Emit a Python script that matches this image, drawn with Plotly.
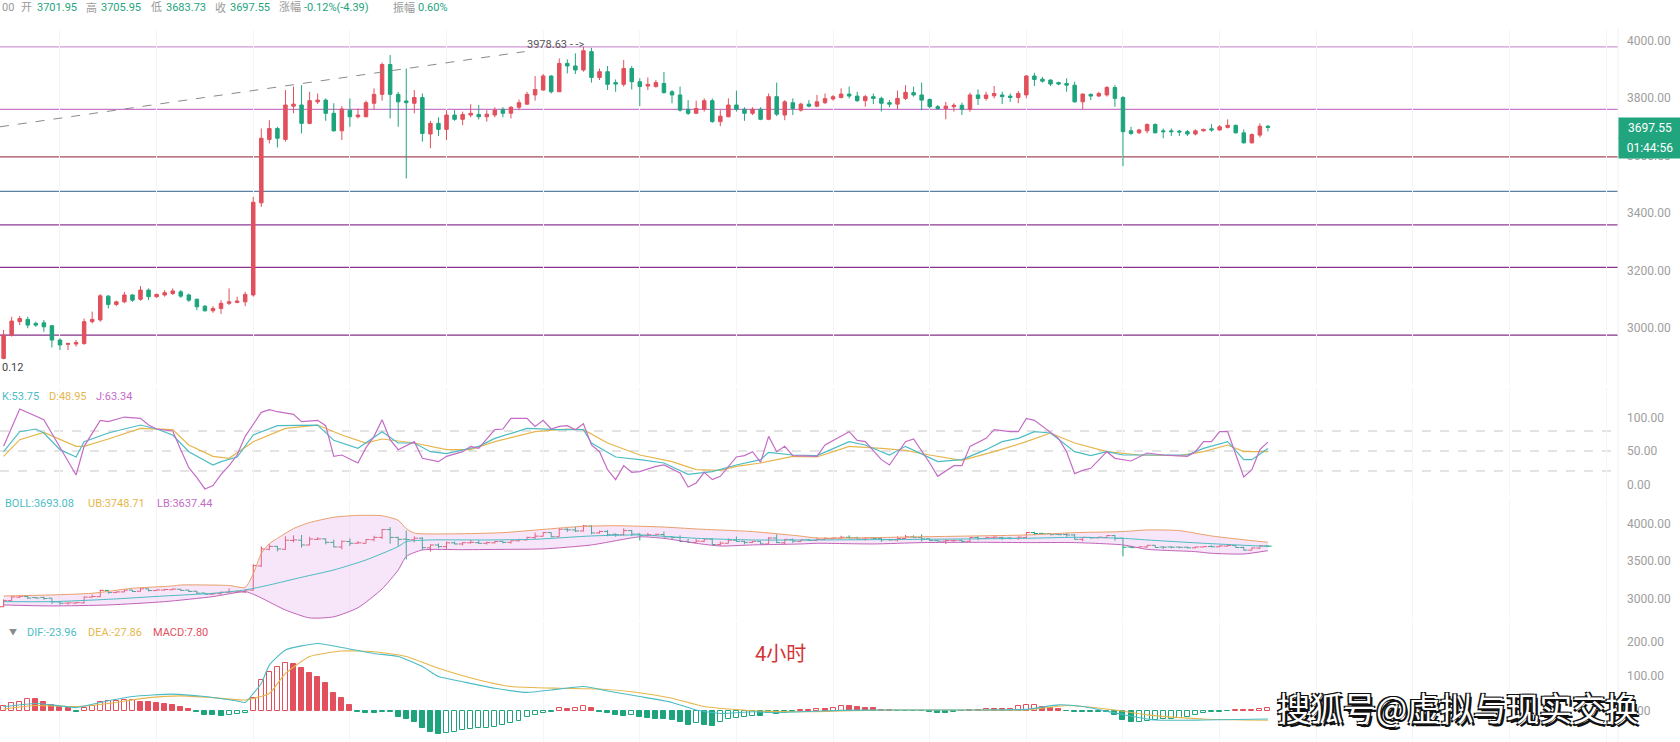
import plotly.graph_objects as go

# ---------------- data ----------------
candle_idx = list(range(158))

opens = [2893,2974,3021,3029,3015,3017,3007,2957,2942,2943,
         2945,3021,3027,3110,3081,3090,3114,3099,3131,3108,
         3114,3119,3125,3114,3099,3075,3059,3067,3085,3088,
         3090,3114,3435,3656,3694,3656,3772,3776,3712,3787,
         3793,3747,3686,3758,3735,3735,3782,3813,3917,3813,
         3790,3782,3802,3675,3712,3691,3741,3726,3741,3743,
         3735,3741,3761,3747,3768,3779,3811,3828,3877,3822,
         3921,3912,3898,3962,3872,3892,3854,3848,3903,3857,
         3842,3840,3851,3822,3811,3761,3747,3761,3791,3718,
         3735,3776,3761,3747,3761,3726,3805,3741,3784,3758,
         3779,3772,3784,3797,3802,3814,3807,3791,3805,3799,
         3784,3779,3799,3819,3811,3795,3770,3764,3770,3775,
         3761,3811,3799,3808,3811,3807,3802,3811,3877,3866,
         3863,3854,3851,3845,3787,3813,3807,3811,3837,3802,
         3686,3679,3686,3708,3686,3686,3685,3683,3675,3686,
         3693,3689,3698,3705,3679,3644,3671,3701.95]

highs = [2992,3038,3041,3038,3021,3027,3009,2963,2948,2957,
         3032,3056,3117,3114,3094,3125,3117,3145,3137,3119,
         3131,3137,3131,3119,3102,3079,3075,3096,3137,3108,
         3125,3456,3694,3723,3700,3828,3840,3845,3822,3816,
         3799,3782,3772,3799,3764,3791,3834,3924,3950,3822,
         3903,3828,3816,3721,3733,3758,3758,3753,3779,3776,
         3758,3768,3768,3772,3795,3822,3877,3884,3880,3938,
         3935,3956,3978.63,3975,3903,3912,3865,3933,3912,3869,
         3872,3863,3891,3828,3840,3793,3791,3799,3799,3758,
         3799,3826,3768,3768,3768,3816,3854,3793,3799,3784,
         3793,3811,3816,3811,3834,3840,3822,3811,3816,3805,
         3793,3826,3845,3840,3854,3799,3776,3787,3782,3784,
         3819,3830,3822,3842,3822,3816,3825,3880,3888,3874,
         3865,3857,3869,3857,3816,3816,3822,3842,3845,3807,
         3700,3693,3712,3712,3694,3694,3689,3689,3691,3693,
         3709,3706,3726,3708,3691,3677,3712,3705.95]

lows = [2890.12,2969,3009,2998,3003,2986,2931,2922,2922,2934,
        2940,3015,3021,3067,3075,3085,3090,3094,3096,3104,
        3108,3114,3104,3090,3061,3056,3052,3048,3079,3085,
        3075,3108,3421,3642,3628,3648,3747,3677,3709,3779,
        3721,3683,3654,3700,3729,3733,3761,3791,3729,3700,
        3520,3747,3648,3625,3668,3654,3721,3706,3733,3726,
        3718,3733,3733,3729,3758,3776,3791,3826,3816,3822,
        3886,3884,3892,3854,3863,3828,3822,3840,3830,3772,
        3828,3837,3816,3782,3753,3741,3744,3753,3714,3702,
        3733,3753,3721,3741,3723,3723,3737,3723,3741,3753,
        3768,3768,3779,3791,3799,3799,3787,3770,3779,3753,
        3768,3761,3793,3805,3758,3764,3761,3726,3753,3741,
        3753,3776,3791,3799,3779,3787,3782,3799,3842,3854,
        3842,3845,3822,3784,3761,3793,3805,3805,3770,3563,
        3671,3675,3677,3677,3660,3668,3668,3668,3670,3683,
        3683,3686,3694,3677,3642,3642,3663,3683.73]

closes = [2974,3023,3032,3009,3009,3003,2957,2940,2945,2948,
          3021,3029,3111,3081,3090,3114,3096,3131,3108,3116,
          3122,3128,3110,3096,3073,3059,3067,3085,3090,3093,
          3116,3437,3660,3694,3660,3776,3779,3712,3791,3793,
          3747,3686,3762,3735,3741,3784,3813,3917,3813,3787,
          3784,3802,3677,3712,3691,3741,3726,3743,3747,3735,
          3744,3758,3747,3768,3784,3813,3830,3877,3822,3921,
          3912,3898,3965,3872,3892,3848,3849,3903,3857,3840,
          3848,3854,3819,3811,3758,3747,3764,3791,3718,3737,
          3776,3761,3747,3761,3726,3805,3744,3787,3764,3779,
          3772,3787,3798,3805,3814,3807,3791,3805,3799,3782,
          3779,3799,3820,3811,3793,3770,3763,3772,3775,3761,
          3811,3799,3811,3816,3805,3802,3816,3877,3865,3859,
          3849,3849,3845,3787,3814,3807,3816,3837,3799,3683,
          3677,3689,3708,3679,3683,3683,3682,3675,3686,3691,
          3689,3700,3705,3679,3644,3673,3701.94,3697.55]

# horizontal level lines drawn on the price panel
level_prices = [3978.63, 3761, 3595, 3475, 3358, 3210, 2974]
level_colors = ['#d197d4', '#c977c9', '#a4485a', '#5b82a3', '#923a95', '#8a3490', '#83308a']

# dashed guide to the high label
guide_x = [-0.45, 64.7]
guide_y = [3700, 3962]
high_label = "3978.63 - ->"
low_label = "0.12"

# KDJ
k_x = [0,2,4,5,7,9,10,13,17,19,21,23,26,27,29,31,34,37,39,41,44,47,49,51,53,55,57,59,61,65,69,72,73,76,79,82,85,88,91,94,95,98,101,105,107,110,112,116,119,122,124,126,128,130,133,135,137,139,143,147,149,152,154,155,157]
k_v = [49,79,83,77,52,41,64,77,89,83,74,49,29,34,41,74,88,89,89,66,54,79,62,62,49,46,52,57,69,84,82,82,62,41,37,32,15,19,29,37,48,44,43,64,59,44,57,34,37,52,64,69,79,77,49,43,49,44,44,44,54,64,37,37,53.75]
d_x = [0,2,5,7,9,10,13,17,21,23,26,28,31,35,39,42,45,47,51,55,58,61,66,70,72,75,79,83,86,89,91,94,98,101,105,109,112,115,119,123,127,130,133,137,141,146,149,152,154,157]
d_v = [42,67,78,67,57,57,68,84,82,59,42,39,64,84,89,74,62,68,62,52,52,64,79,83,82,62,44,34,22,21,27,32,42,41,57,54,51,44,36,49,64,77,62,49,44,43,49,59,49,48.95]
j_x = [0,2,5,9,10,12,13,15,17,18,19,21,22,23,24,25,26,27,28,29,30,31,32,33,34,36,37,39,40,41,42,44,45,46,47,48,49,51,52,54,55,57,58,59,61,62,63,65,66,67,68,69,70,71,72,73,74,75,76,77,78,79,81,82,84,85,86,87,88,89,90,91,92,93,94,95,96,97,98,99,101,102,103,104,105,106,107,109,110,112,113,115,116,118,119,120,122,123,125,126,127,128,129,131,132,133,134,135,137,138,140,142,144,146,147,148,149,150,151,152,154,155,156,157]
j_v = [57,113,97,14,57,96,94,101,99,89,83,80,52,25,10,-7,-2,15,28,44,72,90,108,112,109,105,94,96,88,42,44,32,55,72,97,67,52,64,39,34,42,49,57,54,82,83,99,99,87,96,83,87,88,82,91,59,49,22,7,28,18,19,27,29,17,-4,2,18,7,12,27,41,43,49,33,72,49,57,43,43,42,59,66,72,79,66,64,37,29,64,68,32,12,28,28,57,69,82,79,79,99,96,87,69,49,16,21,24,49,39,35,47,44,43,42,49,64,64,79,79,11,22,52,63.34]
kdj_levels = [20, 50, 80]

# BOLL
ub_x = [0,6,11,16,21,22,28,30,31,32,33,34,36,38,41,44,47,49,50,51,56,62,66,70,72,76,82,86,93,99,101,115,127,133,139,142,146,150,155,157]
ub_v = [3036,3050,3072,3138,3169,3182,3175,3150,3330,3600,3730,3800,3930,4010,4080,4105,4100,4040,3930,3870,3860,3876,3910,3945,3960,3968,3950,3925,3890,3830,3805,3823,3845,3876,3890,3912,3903,3832,3770,3748.71]
lb_x = [0,6,13,20,26,30,31,32,35,38,41,44,47,49,50,52,57,63,67,73,79,82,86,89,93,99,101,108,114,122,127,133,139,142,148,150,154,157]
lb_v = [2917,2904,2917,2961,3028,3094,3060,3010,2850,2745,2760,2880,3130,3380,3560,3646,3650,3655,3660,3713,3820,3800,3735,3699,3713,3726,3735,3726,3744,3748,3744,3744,3713,3655,3624,3602,3593,3637.44]
mb_x = [0,6,13,20,26,30,33,37,41,45,49,50,53,60,66,73,79,86,93,101,115,127,133,139,142,149,157]
mb_v = [2961,2961,2992,3036,3072,3116,3182,3284,3381,3514,3691,3757,3779,3779,3788,3832,3845,3801,3779,3779,3788,3801,3814,3801,3779,3735,3693.08]

# MACD
dif_x = [0,4,6,9,12,16,21,25,29,30,31,32,33,35,39,42,46,49,52,54,57,61,65,68,72,75,79,83,86,89,93,96,99,104,110,120,127,131,134,139,143,149,157]
dif_v = [12,21,17,9,24,41,48,41,28,24,50,79,132,176,195,183,166,157,128,99,84,65,53,60,70,57,41,24,2,-8,-3,-6,-3,1,2,2,4,17,12,-11,-27,-27,-23.96]
dea_x = [0,4,9,13,18,22,26,30,33,35,38,42,46,50,54,59,63,69,74,78,83,87,93,99,104,110,120,127,132,138,142,149,157]
dea_v = [5,15,12,21,38,43,38,31,50,108,157,173,171,157,123,89,70,65,63,55,36,12,0,-3,-1,2,2,2,15,2,-12,-24,-27.86]
macd_hist = [15,21,26,34,33,26,18,12,8,-3,
             9,15,24,28,29,31,32,26,24,21,
             19,16,10,5,-5,-11,-13,-14,-11,-10,
             -8,36,89,111,128,137,136,123,108,99,
             79,50,36,16,-3,-6,-8,-3,-5,-17,
             -25,-32,-51,-63,-68,-65,-61,-56,-53,-51,
             -49,-46,-41,-36,-30,-17,-13,-6,-3,7,
             5,9,15,7,-3,-6,-13,-16,-11,-17,
             -22,-23,-25,-27,-32,-41,-36,-41,-43,-32,
             -24,-20,-17,-14,-15,-8,-9,-6,-3,2,
             3,5,4,7,15,13,11,9,7,2,
             2,-1,-1,-1,-2,-5,-6,-7,-5,-1,
             2,3,4,4,4,5,15,17,18,12,
             9,5,-2,-3,-4,-4,-5,-5,-11,-27,
             -34,-32,-30,-27,-25,-24,-22,-17,-12,-8,
             -5,-3,-1,2,2,3,4,7.8]

# ---------------- styling ----------------
W, H = 1680, 742
PR = 1618  # right edge of plotting area (px)


def xp(px):
    return px / W


def yp(py):
    return 1 - py / H


RED = '#e1505c'
GREEN = '#1ea47d'
C_K = '#4cbcc4'
C_D = '#e6b64c'
C_J = '#c46cc6'
C_UB = '#eaa06a'
C_LB = '#c064b8'
GRAY_TXT = '#9a9a9a'
FONT = 'Roboto, "Noto Sans CJK SC", sans-serif'

fig = go.Figure()

# price candles
fig.add_trace(go.Candlestick(
    x=candle_idx, open=opens, high=highs, low=lows, close=closes,
    increasing=dict(line=dict(color=RED, width=1), fillcolor=RED),
    decreasing=dict(line=dict(color=GREEN, width=1), fillcolor=GREEN),
    whiskerwidth=0, xaxis='x', yaxis='y', hoverinfo='skip'))

# KDJ
fig.add_trace(go.Scatter(x=d_x, y=d_v, mode='lines', line=dict(color=C_D, width=1.2), xaxis='x', yaxis='y2', hoverinfo='skip'))
fig.add_trace(go.Scatter(x=k_x, y=k_v, mode='lines', line=dict(color=C_K, width=1.2), xaxis='x', yaxis='y2', hoverinfo='skip'))
fig.add_trace(go.Scatter(x=j_x, y=j_v, mode='lines', line=dict(color=C_J, width=1.2), xaxis='x', yaxis='y2', hoverinfo='skip'))

# BOLL
fig.add_trace(go.Scatter(x=lb_x, y=lb_v, mode='lines', line=dict(color=C_LB, width=1, shape='spline', smoothing=0.6), xaxis='x', yaxis='y3', hoverinfo='skip'))
fig.add_trace(go.Scatter(x=ub_x, y=ub_v, mode='lines', line=dict(color=C_UB, width=1, shape='spline', smoothing=0.6), fill='tonexty',
                         fillcolor='rgba(226,160,232,0.28)', xaxis='x', yaxis='y3', hoverinfo='skip'))
fig.add_trace(go.Scatter(x=mb_x, y=mb_v, mode='lines', line=dict(color=C_K, width=1, shape='spline', smoothing=0.6), xaxis='x', yaxis='y3', hoverinfo='skip'))
fig.add_trace(go.Ohlc(x=candle_idx, open=opens, high=highs, low=lows, close=closes,
                      increasing=dict(line=dict(color=RED, width=1)),
                      decreasing=dict(line=dict(color=GREEN, width=1)),
                      tickwidth=0.45, xaxis='x', yaxis='y3', hoverinfo='skip'))

# MACD histogram
bar_fill, bar_line = [], []
for i, v in enumerate(macd_hist):
    col = RED if v >= 0 else GREEN
    prev = macd_hist[i - 1] if i > 0 else v - 1
    hollow = v > prev
    bar_line.append(col)
    bar_fill.append('white' if hollow else col)
fig.add_trace(go.Bar(x=candle_idx, y=macd_hist, width=0.62,
                     marker=dict(color=bar_fill, line=dict(color=bar_line, width=1)),
                     xaxis='x', yaxis='y4', hoverinfo='skip'))
fig.add_trace(go.Scatter(x=dea_x, y=dea_v, mode='lines', line=dict(color=C_D, width=1.1, shape='spline', smoothing=0.5), xaxis='x', yaxis='y4', hoverinfo='skip'))
fig.add_trace(go.Scatter(x=dif_x, y=dif_v, mode='lines', line=dict(color=C_K, width=1.1, shape='spline', smoothing=0.5), xaxis='x', yaxis='y4', hoverinfo='skip'))

shapes = []
for p, c in zip(level_prices, level_colors):
    shapes.append(dict(type='line', xref='paper', x0=0, x1=xp(PR), yref='y', y0=p, y1=p,
                       line=dict(color=c, width=1.3), layer='below'))
shapes.append(dict(type='line', xref='x', yref='y', x0=guide_x[0], x1=guide_x[1], y0=guide_y[0], y1=guide_y[1],
                   line=dict(color='#8a8a8a', width=1, dash='dash')))
for lv in kdj_levels:
    shapes.append(dict(type='line', xref='paper', x0=0, x1=xp(PR), yref='y2', y0=lv, y1=lv,
                       line=dict(color='#c8c8c8', width=1, dash='dash'), layer='below'))
# right axis separator
shapes.append(dict(type='line', xref='paper', yref='paper', x0=xp(PR), x1=xp(PR), y0=0, y1=yp(28),
                   line=dict(color='#f0f0f0', width=1), layer='below'))

ann = []


def text(t, x, y, color, size=12, xanchor='left', yanchor='middle', **kw):
    d = dict(text=t, xref='paper', yref='paper', x=x, y=y, xanchor=xanchor, yanchor=yanchor,
             showarrow=False, font=dict(family=FONT, size=size, color=color))
    d.update(kw)
    ann.append(d)


# header line
hdr = [("00", 0, GRAY_TXT), ("开", 19, GRAY_TXT), ("3701.95", 35, GREEN), ("高", 84, GRAY_TXT),
       ("3705.95", 99, GREEN), ("低", 149, GRAY_TXT), ("3683.73", 164, GREEN), ("收", 213, GRAY_TXT),
       ("3697.55", 228, GREEN), ("涨幅", 277, GRAY_TXT), ("-0.12%(-4.39)", 302, GREEN),
       ("振幅", 391, GRAY_TXT), ("0.60%", 416, GREEN)]
for t, px, c in hdr:
    text(t, xp(px), yp(8), c, size=11)

# indicator legends
text("K:53.75", xp(0), yp(397), C_K, size=11)
text("D:48.95", xp(47), yp(397), C_D, size=11)
text("J:63.34", xp(94), yp(397), C_J, size=11)
text("BOLL:3693.08", xp(3), yp(504), C_K, size=11)
text("UB:3748.71", xp(86), yp(504), C_D, size=11)
text("LB:3637.44", xp(155), yp(504), C_J, size=11)
text("▼", xp(7), yp(632), '#8a8a8a', size=8)
text("DIF:-23.96", xp(25), yp(632), C_K, size=11)
text("DEA:-27.86", xp(86), yp(632), C_D, size=11)
text("MACD:7.80", xp(151), yp(632), RED, size=11)

# high / low labels on price panel
ann.append(dict(text=high_label, xref='x', yref='y', x=guide_x[1], y=3988, xanchor='left', yanchor='middle',
                showarrow=False, font=dict(family=FONT, size=11, color='#555555')))
ann.append(dict(text=low_label, xref='paper', yref='y', x=0, y=2863, xanchor='left', yanchor='middle',
                showarrow=False, font=dict(family=FONT, size=11, color='#444444')))

# current price tag + countdown
ann.append(dict(text="3697.55", xref='paper', yref='y', x=xp(PR), y=closes[-1], xanchor='left', yanchor='middle',
                showarrow=False, bgcolor='#21a57e', width=58, height=16, borderpad=2,
                font=dict(family=FONT, size=12, color='white')))
ann.append(dict(text="01:44:56", xref='paper', yref='y', x=xp(PR), y=closes[-1], yshift=-20, xanchor='left',
                yanchor='middle', showarrow=False, bgcolor='#21a57e', width=58, height=16, borderpad=2,
                font=dict(family=FONT, size=12, color='white')))

# period label
text("4小时", xp(780), yp(654), '#d33434', size=20, xanchor='center')

# watermark (white text with dark outline via text-shadow)
wm = "搜狐号@虚拟与现实交换"
text(wm, xp(1275), yp(707), 'white',
     font=dict(family='"Noto Sans CJK SC"', size=33, color='white',
               shadow='-1.5px -1.5px 0 #111, 1.5px -1.5px 0 #111, -1.5px 1.5px 0 #111, 2.5px 2.5px 0 #111'))

axis_font = dict(family=FONT, size=12, color='#9e9e9e')


def yaxis(domain, rng, ticks):
    return dict(domain=domain, range=rng, side='right', anchor='x', tickvals=ticks,
                tickformat='.2f', showgrid=False, zeroline=False, showline=False, ticks='',
                ticklabelstandoff=8, tickfont=axis_font, fixedrange=True)


fig.update_layout(
    width=W, height=H, autosize=False,
    margin=dict(l=0, r=0, t=0, b=0),
    paper_bgcolor='white', plot_bgcolor='white',
    showlegend=False, bargap=0, boxgap=0.38,
    xaxis=dict(domain=[0, xp(PR)], range=[-0.447, 200.47], showticklabels=False, ticks='',
               tickvals=list(range(7, 201, 12)), showgrid=True, gridcolor='#f5f5f5', gridwidth=1,
               zeroline=False, showline=False, rangeslider=dict(visible=False), fixedrange=True),
    yaxis=yaxis([yp(385), yp(30)], [2800.35, 4037.28], [3000, 3200, 3400, 3600, 3800, 4000]),
    yaxis2=yaxis([yp(495), yp(388)], [-16.07, 144.6], [0, 50, 100]),
    yaxis3=yaxis([yp(620), yp(498)], [2717.5, 4335.5], [3000, 3500, 4000]),
    yaxis4=yaxis([yp(742), yp(622)], [-90.7, 257.1], [0, 100, 200]),
    shapes=shapes, annotations=ann,
)

fig.write_html("out.html", config={'displayModeBar': False},
               post_script="document.body.style.margin='0';")
